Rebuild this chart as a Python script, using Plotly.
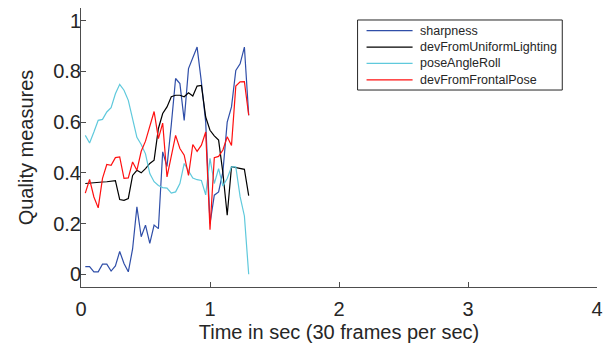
import plotly.graph_objects as go

frames = list(range(1, 40))
time_sec = [f / 30 for f in frames]

sharpness = [0.03, 0.03, 0.01, 0.01, 0.04, 0.04, 0.013, 0.033, 0.09, 0.043,
             0.01, 0.10, 0.266, 0.148, 0.194, 0.122, 0.194, 0.18, 0.483, 0.425,
             0.59, 0.772, 0.752, 0.607, 0.811, 0.85, 0.896, 0.758, 0.6, 0.2,
             0.312, 0.325, 0.404, 0.6, 0.66, 0.804, 0.83, 0.896, 0.627]

dev_lighting = [0.358, 0.36, 0.361, 0.362, 0.364, 0.365, 0.367, 0.369, 0.295, 0.292,
                0.299, 0.39, 0.41, 0.40, 0.417, 0.437, 0.45, 0.575, 0.634, 0.66,
                0.70, 0.706, 0.706, 0.70, 0.716, 0.703, 0.742, 0.745, 0.62, 0.568,
                0.546, 0.529, 0.40, 0.233, 0.424, 0.42, 0.417, 0.414, 0.31]

pose_roll = [0.548, 0.518, 0.561, 0.607, 0.611, 0.64, 0.657, 0.712, 0.749, 0.726,
             0.686, 0.607, 0.54, 0.512, 0.475, 0.397, 0.365, 0.35, 0.342, 0.34,
             0.32, 0.325, 0.358, 0.437, 0.41, 0.38, 0.373, 0.37, 0.313, 0.457,
             0.358, 0.417, 0.348, 0.378, 0.424, 0.424, 0.306, 0.23, 0.0]

dev_frontal = [0.32, 0.374, 0.305, 0.262, 0.378, 0.433, 0.43, 0.46, 0.463, 0.378,
               0.38, 0.443, 0.41, 0.485, 0.525, 0.588, 0.642, 0.535, 0.596, 0.384,
               0.47, 0.548, 0.496, 0.47, 0.39, 0.512, 0.485, 0.509, 0.561, 0.176,
               0.46, 0.465, 0.49, 0.542, 0.508, 0.742, 0.759, 0.76, 0.627]

series_names = ["sharpness", "devFromUniformLighting", "poseAngleRoll", "devFromFrontalPose"]
series_values = [sharpness, dev_lighting, pose_roll, dev_frontal]
series_colors = ["#2f4ea8", "#000000", "#5fc9dc", "#ff1010"]

x_ticks = [0, 1, 2, 3, 4]
y_ticks = [0, 0.2, 0.4, 0.6, 0.8, 1]

fig = go.Figure()
for name, vals, color in zip(series_names, series_values, series_colors):
    fig.add_trace(go.Scatter(x=time_sec, y=vals, mode="lines", name=name,
                             line=dict(color=color, width=1.2)))

font_family = "Liberation Sans, Arial, sans-serif"
text_color = "#262626"
axis_common = dict(showgrid=False, zeroline=False, showline=True,
                   linecolor="#4d4d4d", linewidth=1, ticks="inside",
                   ticklen=5, tickcolor="#4d4d4d", mirror=False,
                   automargin=False,
                   tickfont=dict(family=font_family, size=20, color=text_color))

# legend box drawn in paper coordinates (MATLAB-style compact legend)
box_x0, box_x1, box_y0, box_y1 = 0.536, 0.9327, 0.706, 0.957
line_x0, line_x1, text_x = 0.5534, 0.6426, 0.6523
row_top, row_step = 0.9188, 0.0588

shapes = [dict(type="rect", xref="paper", yref="paper",
               x0=box_x0, x1=box_x1, y0=box_y0, y1=box_y1,
               line=dict(color=text_color, width=1), fillcolor="white", layer="above")]
annotations = []
for i, (name, color) in enumerate(zip(series_names, series_colors)):
    yy = row_top - i * row_step
    shapes.append(dict(type="line", xref="paper", yref="paper",
                       x0=line_x0, x1=line_x1, y0=yy, y1=yy,
                       line=dict(color=color, width=1.2), layer="above"))
    annotations.append(dict(xref="paper", yref="paper", x=text_x, y=yy,
                            xanchor="left", yanchor="middle", showarrow=False,
                            text=name, font=dict(family=font_family, size=12.5,
                                                 color=text_color)))

fig.update_layout(
    width=611, height=343,
    margin=dict(l=81, r=14, t=8, b=56, autoexpand=False),
    paper_bgcolor="white", plot_bgcolor="white",
    font=dict(family=font_family, color=text_color),
    xaxis=dict(range=[0, 4], tickvals=x_ticks, ticklabelstandoff=4,
               title=dict(text="Time in sec (30 frames per sec)",
                          font=dict(size=20, color=text_color), standoff=8),
               **axis_common),
    yaxis=dict(range=[-0.05, 1.05], tickvals=y_ticks, ticklabelstandoff=-5,
               title=dict(text="Quality measures",
                          font=dict(size=20, color=text_color), standoff=14),
               **axis_common),
    shapes=shapes,
    annotations=annotations,
    showlegend=False,
)

fig.write_html("out.html",
               config={"displayModeBar": False},
               post_script="document.body.style.margin='0px';"
                           "document.body.style.overflow='hidden';")
